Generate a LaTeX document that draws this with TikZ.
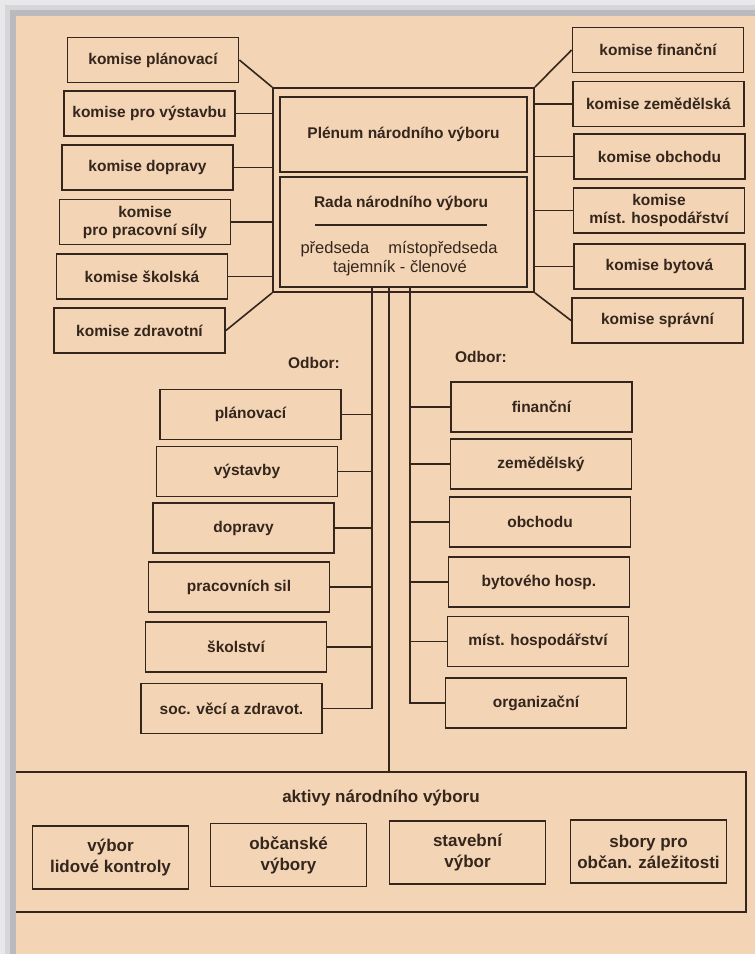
\documentclass[tikz,border=0pt]{standalone}
\usepackage{fontspec}
\setmainfont{Liberation Sans}
\usetikzlibrary{calc}
\definecolor{paper}{RGB}{243,212,181}
\definecolor{ink}{RGB}{52,38,28}
\definecolor{greyA}{RGB}{232,232,234}
\definecolor{greyB}{RGB}{186,186,190}
\definecolor{greyC}{RGB}{214,214,216}
\begin{document}
\begin{tikzpicture}[x=1pt,y=-1pt,
  kbox/.style={draw=ink, line width=1.8pt, minimum width=171pt, minimum height=45pt,
    inner sep=0pt, align=center, text=ink, font=\bfseries\fontsize{15.5}{18}\selectfont},
  obox/.style={kbox, minimum width=181pt, minimum height=50pt},
  abox/.style={kbox, minimum width=156pt, minimum height=63pt, font=\bfseries\fontsize{17}{21}\selectfont},
  bigbox/.style={draw=ink, line width=1.8pt, inner sep=0pt},
  lbl/.style={text=ink, inner sep=0pt, font=\bfseries\fontsize{15.5}{18}\selectfont},
  conn/.style={draw=ink, line width=1.6pt}]
\useasboundingbox (0,0) rectangle (755,954);
% page and frame
\fill[greyA] (0,0) rectangle (755,954);
\fill[greyC] (5,5) rectangle (755,954);
\fill[greyB] (10,10) rectangle (755,954);
\fill[paper] (16,16) rectangle (755,954);

% central frame
\node[bigbox, minimum width=261pt, minimum height=204pt] (frame) at (403.5,190) {};
\node[bigbox, minimum width=247pt, minimum height=75pt, align=center, text=ink,
      font=\bfseries\fontsize{15.5}{18}\selectfont] (plenum) at (403.5,134.5) {Plénum národního výboru};
\node[bigbox, minimum width=247pt, minimum height=110pt] (rada) at (403.5,232) {};
\node[lbl] (radat) at (401,203) {Rada národního výboru};
\draw[ink, line width=1.3pt] (315,225) -- (487,225);
\node[text=ink, inner sep=0pt, font=\fontsize{16.5}{19}\selectfont] (rada2) at (399,249) {předseda\hspace{19pt}místopředseda};
\node[text=ink, inner sep=0pt, font=\fontsize{16.5}{19}\selectfont] (rada3) at (400,268) {tajemník - členové};

% left komise
\node[kbox] (kpl) at (153,60) {komise plánovací};
\node[kbox] (kvy) at (149.5,113.5) {komise pro výstavbu};
\node[kbox] (kdo) at (147.5,167.5) {komise dopravy};
\node[kbox] (kpr) at (145,222) {komise\\pro pracovní síly};
\node[kbox] (ksk) at (142,276.5) {komise školská};
\node[kbox] (kzd) at (139.5,330.5) {komise zdravotní};
% right komise
\node[kbox] (kfi) at (658,50) {komise finanční};
\node[kbox] (kze) at (658.5,104) {komise zemědělská};
\node[kbox] (kob) at (659.5,156.5) {komise obchodu};
\node[kbox] (kmi) at (659,210.5) {komise\\míst. hospodářství};
\node[kbox] (kby) at (659.5,266.5) {komise bytová};
\node[kbox] (ksp) at (657.5,320.5) {komise správní};

\draw[conn] (kpl.east) -- (frame.north west);
\draw[conn] (kzd.east) -- (frame.south west);
\foreach \b in {kvy,kdo,kpr,ksk} \draw[conn] (\b.east) -- (\b.east -| frame.west);
\draw[conn] (kfi.west) -- (frame.north east);
\draw[conn] (ksp.west) -- (frame.south east);
\foreach \b in {kze,kob,kmi,kby} \draw[conn] (\b.west) -- (\b.west -| frame.east);

% Odbor labels
\node[lbl] (odl) at (314,363) {Odbor:};
\node[lbl] (odr) at (481,357) {Odbor:};

% left odbor
\node[obox] (op) at (250.5,414.5) {plánovací};
\node[obox] (ov) at (247,471.5) {výstavby};
\node[obox] (od) at (243.5,528) {dopravy};
\node[obox] (oc) at (239,587) {pracovních sil};
\node[obox] (os) at (236,647) {školství};
\node[obox] (oz) at (231.5,708.5) {soc. věcí a zdravot.};
% right odbor
\node[obox] (rf) at (541.5,407) {finanční};
\node[obox] (rz) at (541,464) {zemědělský};
\node[obox] (ro) at (540,522) {obchodu};
\node[obox] (rb) at (539,582) {bytového hosp.};
\node[obox] (rm) at (538,641.5) {míst. hospodářství};
\node[obox] (rg) at (536,703) {organizační};

% spines
\coordinate (lsx) at (372,0);
\coordinate (csx) at (389,0);
\coordinate (rsx) at (410,0);
\draw[conn] (rada.south -| lsx) -- (oz.east -| lsx) -- (oz.east);
\foreach \b in {op,ov,od,oc,os} \draw[conn] (\b.east) -- (\b.east -| lsx);
\draw[conn] (rada.south -| rsx) -- (rg.west -| rsx) -- (rg.west);
\foreach \b in {rf,rz,ro,rb,rm} \draw[conn] (\b.west) -- (\b.west -| rsx);

% aktivy
\coordinate (akNW) at (16,772);
\coordinate (akSE) at (746,912);
\draw[ink, line width=1.8pt] (akNW) -- (akNW -| akSE) -- (akSE) -- (akSE -| akNW);
\coordinate (akTop) at (csx |- akNW);
\draw[conn] (rada.south -| csx) -- (akTop);
\node[text=ink, inner sep=0pt, font=\bfseries\fontsize{17}{21}\selectfont] (akt) at (381,798) {aktivy národního výboru};
\node[abox] (a1) at (110.5,857.5) {výbor\\lidové kontroly};
\node[abox] (a2) at (288.5,855) {občanské\\výbory};
\node[abox] (a3) at (467.5,852.5) {stavební\\výbor};
\node[abox] (a4) at (648.5,851.5) {sbory pro\\občan. záležitosti};
\end{tikzpicture}
\end{document}
